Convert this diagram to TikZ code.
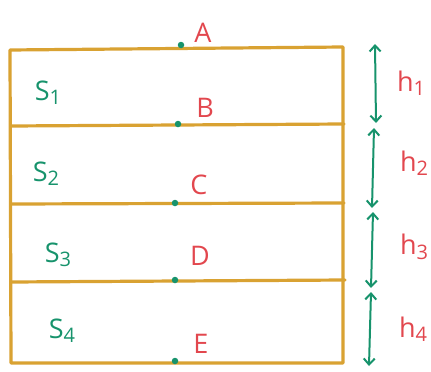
\documentclass[tikz,border=0pt]{standalone}
\usepackage{fontspec}
\setmainfont{Open Sans}
\usetikzlibrary{arrows.meta}
\definecolor{frame}{HTML}{D9A232}
\definecolor{ink}{HTML}{17936C}
\definecolor{redink}{HTML}{E2474E}
% lowered index, almost full size, as written by hand
\newcommand{\idx}[1]{\raisebox{-0.3ex}{\fontsize{20}{20}\selectfont #1}}
\tikzset{
  wall/.style={draw=frame, line width=3.2pt, line cap=round, line join=round},
  pt/.style={circle, fill=ink, inner sep=0pt, minimum size=6.5pt},
  ptlabel/.style={text=redink, font=\fontsize{27}{27}\selectfont, inner sep=0pt},
  area/.style={text=ink, font=\fontsize{27}{27}\selectfont, inner sep=0pt},
  hlabel/.style={text=redink, font=\fontsize{27}{27}\selectfont, inner sep=0pt},
  gap/.style={draw=ink, line width=2pt, {Straight Barb[length=6pt,width=11pt]}-{Straight Barb[length=6pt,width=11pt]}}
}
\begin{document}
\begin{tikzpicture}[x=1pt,y=-1pt]
  \useasboundingbox (0,0) rectangle (431,372);
  % corners and level ends
  \coordinate (l0) at (10,50);  \coordinate (r0) at (343,47);
  \coordinate (l1) at (11,126); \coordinate (r1) at (344,124);
  \coordinate (l2) at (11,204); \coordinate (r2) at (344,203);
  \coordinate (l3) at (11,282); \coordinate (r3) at (345,280);
  \coordinate (l4) at (11,363); \coordinate (r4) at (343,363);
  % outer frame and the dividing levels
  \draw[wall] (r0) -- (l0) -- (l4) -- (r4) -- (r0);
  \draw[wall] (l1) -- (r1);
  \draw[wall] (l2) -- (r2);
  \draw[wall] (l3) -- (r3);
  % points on the levels
  \node[pt] (pa) at (181,45) {};
  \node[pt] (pb) at (178,124) {};
  \node[pt] (pc) at (175,203) {};
  \node[pt] (pd) at (175,280) {};
  \node[pt] (pe) at (175,361) {};
  \node[ptlabel] (A) at (203,33) {A};
  \node[ptlabel] (B) at (205,108) {B};
  \node[ptlabel] (C) at (199,185) {C};
  \node[ptlabel] (D) at (200,256) {D};
  \node[ptlabel] (E) at (201,344) {E};
  % strip areas
  \node[area] (s1) at (48,93) {S\idx{1}};
  \node[area] (s2) at (46,174) {S\idx{2}};
  \node[area] (s3) at (58,255) {S\idx{3}};
  \node[area] (s4) at (62,331) {S\idx{4}};
  % heights of the strips
  \coordinate (h0) at (375,44);
  \coordinate (h1a) at (376,123); \coordinate (h1b) at (374,128);
  \coordinate (h2a) at (372,208); \coordinate (h2b) at (373,212);
  \coordinate (h3a) at (371,288); \coordinate (h3b) at (371,292);
  \coordinate (h4) at (369,366);
  \draw[gap] (h0) -- (h1a);
  \draw[gap] (h1b) -- (h2a);
  \draw[gap] (h2b) -- (h3a);
  \draw[gap] (h3b) -- (h4);
  \node[hlabel] (t1) at (411,83) {h\idx{1}};
  \node[hlabel] (t2) at (414,163) {h\idx{2}};
  \node[hlabel] (t3) at (414,247) {h\idx{3}};
  \node[hlabel] (t4) at (413,329) {h\idx{4}};
\end{tikzpicture}
\end{document}
